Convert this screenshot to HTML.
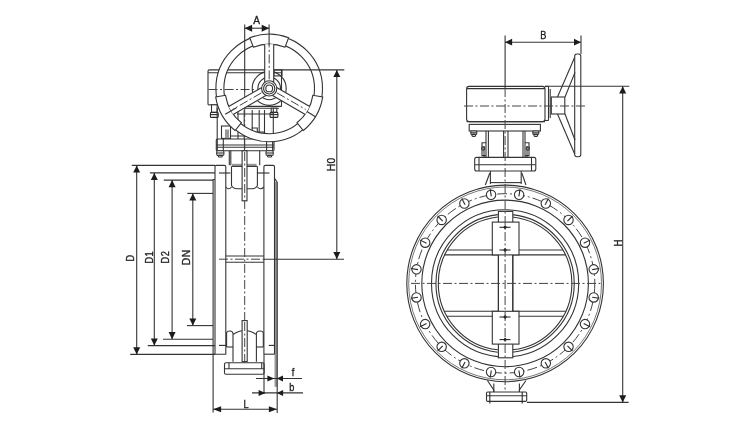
<!DOCTYPE html>
<html><head><meta charset="utf-8"><title>Butterfly valve dimensions</title>
<style>
html,body{margin:0;padding:0;background:#fff;}
body{width:750px;height:438px;overflow:hidden;}
svg{display:block;filter:blur(0.35px)}
svg *{fill:none;stroke:#343434;stroke-width:1.1;}
svg .w{fill:#fff}
svg .ar{fill:#1c1c1c;stroke:none}
svg .cl{stroke-dasharray:9 2.5 2 2.5;stroke:#444;stroke-width:1}
svg .thin{stroke-width:0.8;stroke:#555}
svg .g{fill:#999;stroke:none}
svg .dk{stroke:#2a2a2a;stroke-width:1.1}
svg text{fill:#222;stroke:#222;stroke-width:0.35;font-family:"Liberation Sans",Arial,sans-serif;}
</style></head><body>
<svg width="750" height="438" viewBox="0 0 750 438">
<rect x="0" y="0" width="750" height="438" style="fill:#fff;stroke:none"/>

<path d="M208 104.8 V71.2 Q208 69.9 209.3 69.9 H281.5 V106.4" />
<line x1="208.00" y1="72.80" x2="281.50" y2="72.80" />
<rect x="274.00" y="69.90" width="8.00" height="6.00" rx="0" />
<line x1="208.00" y1="104.80" x2="218.00" y2="104.80" />
<line x1="218.00" y1="106.40" x2="281.50" y2="106.40" />
<line x1="218.00" y1="108.20" x2="279.00" y2="108.20" />
<rect x="211.50" y="104.80" width="5.60" height="7.60" rx="0" class="w" />
<rect x="210.40" y="112.40" width="7.80" height="5.00" rx="1" class="w dk" />
<line x1="210.40" y1="114.60" x2="218.20" y2="114.60" class="dk" />
<rect x="271.20" y="108.20" width="5.60" height="4.20" rx="0" class="w" />
<rect x="270.10" y="112.40" width="7.80" height="5.00" rx="1" class="w dk" />
<line x1="270.10" y1="114.60" x2="277.90" y2="114.60" class="dk" />
<line x1="217.20" y1="108.20" x2="217.20" y2="139.00" />
<line x1="273.30" y1="108.20" x2="273.30" y2="139.00" />
<line x1="238.00" y1="110.00" x2="238.00" y2="139.00" />
<line x1="244.20" y1="110.00" x2="244.20" y2="139.00" />
<line x1="252.20" y1="110.00" x2="252.20" y2="139.00" />
<line x1="259.20" y1="110.00" x2="259.20" y2="139.00" />
<line x1="264.50" y1="110.00" x2="264.50" y2="139.00" />
<line x1="230.40" y1="136.00" x2="273.00" y2="136.00" />
<line x1="237.00" y1="114.00" x2="273.30" y2="114.00" />
<path d="M251.6 128 H257.3 V132 H264.5" />
<rect x="221.50" y="126.00" width="9.00" height="12.40" rx="0" />
<rect x="225.00" y="129.50" width="4.00" height="8.90" rx="0" class="g" />
<rect x="216.30" y="139.00" width="57.70" height="11.80" rx="1" class="w" />
<line x1="216.30" y1="145.00" x2="274.00" y2="145.00" />
<line x1="216.30" y1="147.20" x2="274.00" y2="147.20" />
<line x1="244.50" y1="139.00" x2="244.50" y2="150.80" />
<line x1="217.30" y1="139.00" x2="217.30" y2="150.80" />
<line x1="223.30" y1="139.00" x2="223.30" y2="150.80" />
<rect x="216.70" y="150.80" width="7.20" height="4.60" rx="1.2" class="w" />
<line x1="216.70" y1="153.00" x2="223.90" y2="153.00" />
<rect x="218.30" y="155.40" width="4.00" height="1.60" rx="0.8" class="w" />
<line x1="266.60" y1="139.00" x2="266.60" y2="150.80" />
<line x1="272.60" y1="139.00" x2="272.60" y2="150.80" />
<rect x="266.00" y="150.80" width="7.20" height="4.60" rx="1.2" class="w" />
<line x1="266.00" y1="153.00" x2="273.20" y2="153.00" />
<rect x="267.60" y="155.40" width="4.00" height="1.60" rx="0.8" class="w" />
<line x1="229.30" y1="150.80" x2="229.30" y2="165.30" />
<line x1="259.70" y1="150.80" x2="259.70" y2="165.30" />
<line x1="230.80" y1="150.80" x2="230.80" y2="165.30" />
<rect x="232.00" y="163.80" width="10.00" height="2.60" rx="0" class="g" />
<rect x="247.00" y="163.80" width="9.60" height="2.60" rx="0" class="g" />
<path d="M215 354.2 V166.8 Q215 165.4 216.4 165.4 H224.4 Q225.8 165.4 225.8 166.8 V354.2 H213.2" />
<path d="M263.9 354.2 V166.8 Q263.9 165.4 265.3 165.4 H273.1 Q274.5 165.4 274.5 166.8 V178.4 L277 181.8" />
<line x1="213.10" y1="179.50" x2="213.10" y2="339.20" />
<line x1="213.10" y1="179.50" x2="215.00" y2="179.50" />
<rect x="274.50" y="181.80" width="2.90" height="205.00" rx="0" class="g" />
<line x1="274.50" y1="178.00" x2="274.50" y2="354.20" />
<line x1="277.20" y1="181.80" x2="277.20" y2="413.00" />
<line x1="263.90" y1="354.20" x2="274.50" y2="354.20" />
<path d="M225.8 187 Q228.6 190.5 231.5 187" />
<path d="M257.4 187 Q260.6 190.5 263.9 187" />
<path d="M231.5 166.4 V185.5 Q233 188.6 237 188.8 H252 Q256 188.6 257.4 185.5 V166.4" />
<line x1="231.50" y1="166.40" x2="257.40" y2="166.40" />
<line x1="219.00" y1="173.00" x2="230.40" y2="173.00" class="dk" />
<line x1="257.40" y1="173.00" x2="269.40" y2="173.00" class="dk" />
<line x1="219.00" y1="345.40" x2="225.80" y2="345.40" class="dk" />
<line x1="268.80" y1="345.40" x2="274.50" y2="345.40" class="dk" />
<rect x="242.10" y="150.80" width="4.90" height="50.00" rx="0" class="w" />
<line x1="225.80" y1="256.00" x2="263.90" y2="256.00" />
<line x1="225.80" y1="262.30" x2="263.90" y2="262.30" />
<line x1="244.70" y1="92.00" x2="244.70" y2="150.00" class="cl" />
<line x1="244.70" y1="152.00" x2="244.70" y2="322.00" class="cl" />
<line x1="219.00" y1="259.20" x2="264.00" y2="259.20" class="cl" />
<path d="M226.6 347 V333 Q226.6 331 229.8 331 Q233 331 233 334" />
<path d="M263.3 347 V333 Q263.3 331 259.9 331 Q256.4 331 256.4 334" />
<line x1="226.60" y1="347.00" x2="233.00" y2="347.00" />
<line x1="256.40" y1="347.00" x2="263.30" y2="347.00" />
<path d="M233 361.8 V334.5 Q244.7 326.5 256.4 334.5 V361.8" />
<rect x="242.10" y="320.60" width="5.10" height="41.00" rx="0" class="w" />
<line x1="244.70" y1="322.00" x2="244.70" y2="373.00" class="cl" />
<rect x="224.50" y="362.80" width="39.60" height="11.40" rx="1.5" class="w" />
<line x1="224.50" y1="368.80" x2="264.10" y2="368.80" />
<line x1="229.00" y1="362.80" x2="229.00" y2="368.80" />
<line x1="261.70" y1="362.80" x2="261.70" y2="368.80" />
<circle cx="269.20" cy="88.40" r="17.00" />
<circle cx="269.20" cy="88.40" r="11.30" />
<path class="w" fill-rule="evenodd" d="M215.90 88.40 A53.3 53.3 0 1 0 322.50 88.40 A53.3 53.3 0 1 0 215.90 88.40 Z M223.90 88.40 A45.3 45.3 0 1 1 314.50 88.40 A45.3 45.3 0 1 1 223.90 88.40 Z"/>
<path class="w" d="M288.62 37.80 A54.2 54.2 0 0 0 249.78 37.80 L253.36 47.14 A44.2 44.2 0 0 1 285.04 47.14 Z"/>
<path class="w" d="M215.67 96.88 A54.2 54.2 0 0 0 235.09 130.52 L241.38 122.75 A44.2 44.2 0 0 1 225.54 95.31 Z"/>
<path class="w" d="M303.31 130.52 A54.2 54.2 0 0 0 322.73 96.88 L312.86 95.31 A44.2 44.2 0 0 1 297.02 122.75 Z"/>
<polygon class="w" style="stroke:none" points="273.70,82.40 273.70,44.20 264.70,44.20 264.70,82.40"/>
<line x1="273.70" y1="82.40" x2="273.70" y2="44.20" />
<line x1="264.70" y1="82.40" x2="264.70" y2="44.20" />
<line x1="269.20" y1="79.40" x2="269.20" y2="46.20" class="cl" />
<polygon class="w" style="stroke:none" points="261.75,87.50 228.67,106.60 233.17,114.40 266.25,95.30"/>
<line x1="261.75" y1="87.50" x2="228.67" y2="106.60" />
<line x1="266.25" y1="95.30" x2="233.17" y2="114.40" />
<line x1="261.41" y1="92.90" x2="232.65" y2="109.50" class="cl" />
<polygon class="w" style="stroke:none" points="272.15,95.30 305.23,114.40 309.73,106.60 276.65,87.50"/>
<line x1="272.15" y1="95.30" x2="305.23" y2="114.40" />
<line x1="276.65" y1="87.50" x2="309.73" y2="106.60" />
<line x1="276.99" y1="92.90" x2="305.75" y2="109.50" class="cl" />
<line x1="306.89" y1="111.49" x2="315.41" y2="116.72" />
<line x1="236.46" y1="107.69" x2="225.26" y2="114.28" />
<circle cx="269.20" cy="88.40" r="7.60" class="w" />
<circle cx="269.20" cy="88.40" r="5.60" />
<circle cx="269.20" cy="88.40" r="3.40" />
<line x1="208.50" y1="89.50" x2="256.00" y2="89.50" class="cl" />
<line x1="244.70" y1="24.60" x2="244.70" y2="92.00" />
<line x1="269.10" y1="24.60" x2="269.10" y2="46.00" />
<line x1="244.70" y1="28.20" x2="269.10" y2="28.20" />
<polygon class="ar" points="244.70,28.20 252.10,24.70 252.10,31.70"/>
<polygon class="ar" points="269.10,28.20 261.70,24.70 261.70,31.70"/>
<text transform="translate(256.70,24.40) scale(0.88,1)" text-anchor="middle" font-size="11.5">A</text>
<line x1="281.50" y1="69.90" x2="344.30" y2="69.90" />
<line x1="264.00" y1="259.20" x2="344.00" y2="259.20" />
<line x1="336.80" y1="69.90" x2="336.80" y2="259.20" />
<polygon class="ar" points="336.80,69.90 333.30,77.10 340.30,77.10"/>
<polygon class="ar" points="336.80,259.20 333.30,252.00 340.30,252.00"/>
<text transform="translate(335.00,164.30) rotate(-90) scale(0.9,1)" text-anchor="middle" font-size="11.5" letter-spacing="0.4">H0</text>
<line x1="131.80" y1="165.40" x2="215.00" y2="165.40" />
<line x1="130.20" y1="354.40" x2="215.00" y2="354.40" />
<line x1="136.70" y1="165.40" x2="136.70" y2="354.40" />
<polygon class="ar" points="136.70,165.40 133.20,172.60 140.20,172.60"/>
<polygon class="ar" points="136.70,354.40 133.20,347.20 140.20,347.20"/>
<text transform="translate(133.90,258.30) rotate(-90) scale(0.8,1)" text-anchor="middle" font-size="11.5" letter-spacing="0">D</text>
<line x1="149.90" y1="172.90" x2="215.00" y2="172.90" />
<line x1="147.80" y1="345.60" x2="215.00" y2="345.60" />
<line x1="154.30" y1="172.90" x2="154.30" y2="345.60" />
<polygon class="ar" points="154.30,172.90 150.80,180.10 157.80,180.10"/>
<polygon class="ar" points="154.30,345.60 150.80,338.40 157.80,338.40"/>
<text transform="translate(153.00,257.20) rotate(-90) scale(0.8,1)" text-anchor="middle" font-size="11.5" letter-spacing="0.6">D1</text>
<line x1="163.80" y1="180.10" x2="213.10" y2="180.10" />
<line x1="163.00" y1="339.20" x2="213.10" y2="339.20" />
<line x1="172.10" y1="180.10" x2="172.10" y2="339.20" />
<polygon class="ar" points="172.10,180.10 168.60,187.30 175.60,187.30"/>
<polygon class="ar" points="172.10,339.20 168.60,332.00 175.60,332.00"/>
<text transform="translate(169.00,257.10) rotate(-90) scale(0.8,1)" text-anchor="middle" font-size="11.5" letter-spacing="0.6">D2</text>
<line x1="187.30" y1="193.40" x2="213.10" y2="193.40" />
<line x1="187.00" y1="325.60" x2="213.10" y2="325.60" />
<line x1="192.80" y1="193.40" x2="192.80" y2="325.60" />
<polygon class="ar" points="192.80,193.40 189.30,200.60 196.30,200.60"/>
<polygon class="ar" points="192.80,325.60 189.30,318.40 196.30,318.40"/>
<text transform="translate(190.00,257.30) rotate(-90) scale(0.9,1)" text-anchor="middle" font-size="11.5" letter-spacing="0.4">DN</text>
<line x1="213.10" y1="339.20" x2="213.10" y2="412.40" />
<line x1="264.00" y1="354.20" x2="264.00" y2="394.00" />
<line x1="213.10" y1="409.20" x2="276.90" y2="409.20" />
<polygon class="ar" points="213.10,409.20 221.10,406.20 221.10,412.20"/>
<polygon class="ar" points="276.90,409.20 268.90,406.20 268.90,412.20"/>
<text transform="translate(246.00,407.80) scale(0.8,1)" text-anchor="middle" font-size="11.5">L</text>
<line x1="256.00" y1="378.50" x2="302.00" y2="378.50" />
<polygon class="ar" points="274.20,378.50 267.40,375.50 267.40,381.50"/>
<polygon class="ar" points="276.80,378.50 283.00,375.50 283.00,381.50"/>
<text transform="translate(293.00,375.60) scale(0.8,1)" text-anchor="middle" font-size="11.5">f</text>
<line x1="252.00" y1="392.90" x2="303.00" y2="392.90" />
<polygon class="ar" points="265.40,392.90 258.60,389.90 258.60,395.90"/>
<polygon class="ar" points="276.90,392.90 283.10,389.90 283.10,395.90"/>
<text transform="translate(291.70,390.80) scale(0.8,1)" text-anchor="middle" font-size="11.5">b</text>
<rect x="466.60" y="86.40" width="78.40" height="35.20" rx="2.5" />
<line x1="467.00" y1="88.60" x2="545.00" y2="88.60" />
<line x1="545.00" y1="86.40" x2="548.50" y2="86.40" />
<line x1="548.50" y1="86.40" x2="548.50" y2="120.50" />
<line x1="545.00" y1="120.50" x2="548.50" y2="120.50" />
<line x1="550.20" y1="89.00" x2="550.20" y2="118.00" />
<rect x="551.30" y="97.00" width="13.50" height="17.00" rx="0" />
<rect x="574.70" y="54.00" width="6.10" height="102.80" rx="2.2" class="w" />
<line x1="557.50" y1="97.00" x2="574.70" y2="57.30" />
<line x1="565.00" y1="97.00" x2="575.00" y2="72.40" />
<line x1="557.50" y1="114.00" x2="574.70" y2="154.00" />
<line x1="565.00" y1="114.00" x2="575.00" y2="140.00" />
<line x1="464.00" y1="106.00" x2="585.00" y2="106.00" class="cl" />
<rect x="469.20" y="124.40" width="71.20" height="6.60" rx="0" />
<line x1="466.60" y1="121.60" x2="545.00" y2="121.60" />
<rect x="470.80" y="131.00" width="6.00" height="3.40" rx="0.8" class="w" />
<line x1="470.80" y1="132.80" x2="476.80" y2="132.80" />
<rect x="472.00" y="134.40" width="3.60" height="2.00" rx="0.8" class="w" />
<rect x="532.80" y="131.00" width="6.00" height="3.40" rx="0.8" class="w" />
<line x1="532.80" y1="132.80" x2="538.80" y2="132.80" />
<rect x="534.00" y="134.40" width="3.60" height="2.00" rx="0.8" class="w" />
<line x1="486.00" y1="131.00" x2="486.00" y2="157.40" />
<line x1="525.00" y1="131.00" x2="525.00" y2="157.40" />
<line x1="488.40" y1="131.00" x2="488.40" y2="157.40" />
<line x1="523.00" y1="131.00" x2="523.00" y2="157.40" />
<line x1="503.60" y1="131.00" x2="503.60" y2="157.40" />
<line x1="508.00" y1="131.00" x2="508.00" y2="157.40" />
<path d="M486.0 142.8 H482.0 V155.6 H486.0" />
<line x1="484.00" y1="146.00" x2="484.00" y2="157.40" />
<circle cx="483.20" cy="148.50" r="1.60" />
<path d="M525.0 142.8 H529.0 V155.6 H525.0" />
<line x1="527.00" y1="146.00" x2="527.00" y2="157.40" />
<circle cx="527.80" cy="148.50" r="1.60" />
<rect x="474.70" y="157.40" width="61.10" height="13.60" rx="2" class="w" />
<line x1="474.70" y1="164.70" x2="535.80" y2="164.70" />
<line x1="479.00" y1="157.40" x2="479.00" y2="171.00" />
<line x1="531.50" y1="157.40" x2="531.50" y2="171.00" />
<line x1="490.40" y1="171.00" x2="490.40" y2="184.00" />
<line x1="521.20" y1="171.00" x2="521.20" y2="184.00" />
<line x1="489.80" y1="173.00" x2="485.30" y2="185.00" />
<line x1="521.80" y1="173.00" x2="526.00" y2="185.00" />
<line x1="490.40" y1="182.60" x2="521.20" y2="182.60" />
<circle cx="505.10" cy="283.40" r="98.30" class="w" />
<circle cx="505.10" cy="283.40" r="96.40" class="thin" />
<circle cx="505.10" cy="283.40" r="83.30" />
<circle cx="505.10" cy="283.40" r="73.60" />
<circle cx="505.1" cy="283.4" r="89.7" class="cl" style="stroke-dasharray:10 3 2 3"/>
<circle cx="593.70" cy="269.37" r="4.70" class="w" />
<line x1="599.23" y1="268.49" x2="592.21" y2="269.60" class="dk" />
<circle cx="585.02" cy="242.68" r="4.70" class="w" />
<line x1="590.01" y1="240.13" x2="583.69" y2="243.36" class="dk" />
<circle cx="568.53" cy="219.97" r="4.70" class="w" />
<line x1="572.49" y1="216.01" x2="567.47" y2="221.03" class="dk" />
<circle cx="545.82" cy="203.48" r="4.70" class="w" />
<line x1="548.37" y1="198.49" x2="545.14" y2="204.81" class="dk" />
<circle cx="519.13" cy="194.80" r="4.70" class="w" />
<line x1="520.01" y1="189.27" x2="518.90" y2="196.29" class="dk" />
<circle cx="491.07" cy="194.80" r="4.70" class="w" />
<line x1="490.19" y1="189.27" x2="491.30" y2="196.29" class="dk" />
<circle cx="464.38" cy="203.48" r="4.70" class="w" />
<line x1="461.83" y1="198.49" x2="465.06" y2="204.81" class="dk" />
<circle cx="441.67" cy="219.97" r="4.70" class="w" />
<line x1="437.71" y1="216.01" x2="442.73" y2="221.03" class="dk" />
<circle cx="425.18" cy="242.68" r="4.70" class="w" />
<line x1="420.19" y1="240.13" x2="426.51" y2="243.36" class="dk" />
<circle cx="416.50" cy="269.37" r="4.70" class="w" />
<line x1="410.97" y1="268.49" x2="417.99" y2="269.60" class="dk" />
<circle cx="416.50" cy="297.43" r="4.70" class="w" />
<line x1="410.97" y1="298.31" x2="417.99" y2="297.20" class="dk" />
<circle cx="425.18" cy="324.12" r="4.70" class="w" />
<line x1="420.19" y1="326.67" x2="426.51" y2="323.44" class="dk" />
<circle cx="441.67" cy="346.83" r="4.70" class="w" />
<line x1="437.71" y1="350.79" x2="442.73" y2="345.77" class="dk" />
<circle cx="464.38" cy="363.32" r="4.70" class="w" />
<line x1="461.83" y1="368.31" x2="465.06" y2="361.99" class="dk" />
<circle cx="491.07" cy="372.00" r="4.70" class="w" />
<line x1="490.19" y1="377.53" x2="491.30" y2="370.51" class="dk" />
<circle cx="519.13" cy="372.00" r="4.70" class="w" />
<line x1="520.01" y1="377.53" x2="518.90" y2="370.51" class="dk" />
<circle cx="545.82" cy="363.32" r="4.70" class="w" />
<line x1="548.37" y1="368.31" x2="545.14" y2="361.99" class="dk" />
<circle cx="568.53" cy="346.83" r="4.70" class="w" />
<line x1="572.49" y1="350.79" x2="567.47" y2="345.77" class="dk" />
<circle cx="585.02" cy="324.12" r="4.70" class="w" />
<line x1="590.01" y1="326.67" x2="583.69" y2="323.44" class="dk" />
<circle cx="593.70" cy="297.43" r="4.70" class="w" />
<line x1="599.23" y1="298.31" x2="592.21" y2="297.20" class="dk" />
<path d="M497.90 214.58 A69.2 69.2 0 0 0 497.90 352.22"/>
<path d="M512.30 214.58 A69.2 69.2 0 0 1 512.30 352.22"/>
<path d="M497.90 216.99 A66.8 66.8 0 0 0 497.90 349.81"/>
<path d="M512.30 216.99 A66.8 66.8 0 0 1 512.30 349.81"/>
<line x1="447.25" y1="250.00" x2="562.95" y2="250.00" />
<line x1="444.68" y1="254.90" x2="565.52" y2="254.90" />
<line x1="444.41" y1="311.30" x2="565.79" y2="311.30" />
<line x1="446.91" y1="316.20" x2="563.29" y2="316.20" />
<rect x="498.40" y="211.40" width="14.40" height="146.40" rx="0" class="w" />
<rect x="492.30" y="222.10" width="26.70" height="32.80" rx="0" class="w" />
<rect x="492.30" y="311.30" width="26.70" height="32.80" rx="0" class="w" />
<line x1="498.40" y1="254.90" x2="498.40" y2="311.30" />
<line x1="512.80" y1="254.90" x2="512.80" y2="311.30" />
<line x1="499.50" y1="227.30" x2="510.50" y2="227.30" class="dk" />
<path class="ar" d="M505.1 225.10000000000002 L506.90000000000003 227.3 L505.1 229.5 L503.3 227.3 Z"/>
<line x1="499.50" y1="250.00" x2="510.50" y2="250.00" class="dk" />
<path class="ar" d="M505.1 247.8 L506.90000000000003 250 L505.1 252.2 L503.3 250 Z"/>
<line x1="499.50" y1="317.00" x2="510.50" y2="317.00" class="dk" />
<path class="ar" d="M505.1 314.8 L506.90000000000003 317 L505.1 319.2 L503.3 317 Z"/>
<line x1="499.50" y1="339.60" x2="510.50" y2="339.60" class="dk" />
<path class="ar" d="M505.1 337.40000000000003 L506.90000000000003 339.6 L505.1 341.8 L503.3 339.6 Z"/>
<line x1="505.10" y1="35.50" x2="505.10" y2="88.00" />
<line x1="505.10" y1="88.00" x2="505.10" y2="397.00" class="cl" />
<line x1="411.00" y1="283.40" x2="601.00" y2="283.40" class="cl" />
<path d="M487.4 380.5 L493.8 390 V392" />
<path d="M526 380.5 L519.4 390 V392" />
<line x1="493.80" y1="383.50" x2="493.80" y2="392.00" />
<line x1="519.40" y1="383.50" x2="519.40" y2="392.00" />
<rect x="486.50" y="392.00" width="40.20" height="9.40" rx="1.2" class="w" />
<line x1="486.50" y1="395.80" x2="526.70" y2="395.80" />
<line x1="489.80" y1="392.00" x2="489.80" y2="403.60" class="dk" />
<line x1="522.20" y1="392.00" x2="522.20" y2="403.60" class="dk" />
<line x1="545.00" y1="86.30" x2="629.30" y2="86.30" />
<line x1="527.00" y1="402.40" x2="628.60" y2="402.40" />
<line x1="622.70" y1="86.30" x2="622.70" y2="402.40" />
<polygon class="ar" points="622.70,86.30 619.20,93.50 626.20,93.50"/>
<polygon class="ar" points="622.70,402.40 619.20,395.20 626.20,395.20"/>
<text transform="translate(621.60,242.90) rotate(-90) scale(0.84,1)" text-anchor="middle" font-size="11.5" letter-spacing="0">H</text>
<line x1="581.00" y1="35.50" x2="581.00" y2="54.00" />
<line x1="505.10" y1="42.20" x2="581.00" y2="42.20" />
<polygon class="ar" points="505.10,42.20 512.10,38.80 512.10,45.60"/>
<polygon class="ar" points="581.00,42.20 574.00,38.80 574.00,45.60"/>
<text transform="translate(543.40,39.00) scale(0.8,1)" text-anchor="middle" font-size="11.5">B</text>
</svg></body></html>
